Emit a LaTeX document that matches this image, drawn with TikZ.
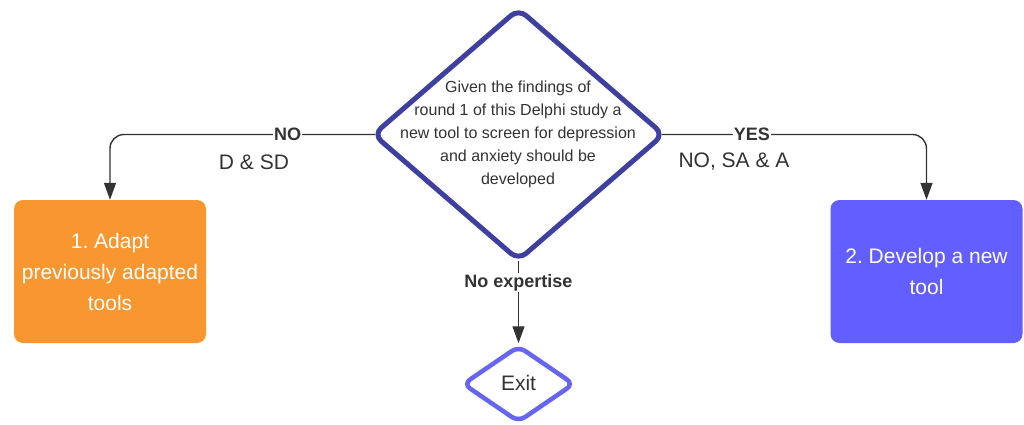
\documentclass[tikz,border=0pt]{standalone}
\usepackage{fontspec}
\setmainfont{Liberation Sans}
\usetikzlibrary{shapes.geometric,arrows.meta}
\definecolor{ink}{HTML}{333333}
\definecolor{decisionblue}{HTML}{3E3F9E}
\definecolor{exitblue}{HTML}{6565F2}
\definecolor{adaptorange}{HTML}{F8962F}
\definecolor{developblue}{HTML}{635EFF}
\frenchspacing
\tikzset{
  decision/.style={diamond, draw=decisionblue, line width=5pt, fill=white,
    rounded corners=10pt, inner sep=0pt},
  exitbox/.style={diamond, draw=exitblue, line width=4.5pt, fill=white,
    rounded corners=8pt, inner sep=0pt},
  choice/.style={rectangle, rounded corners=9pt, inner sep=0pt,
    minimum width=192pt, minimum height=143pt, text=white, align=center,
    font=\fontsize{21}{31}\selectfont},
  conn/.style={draw=ink, line width=1.4pt, -{Triangle[length=17pt,width=12pt]}},
  edgelabel/.style={fill=white, text=ink, inner sep=1pt,
    font=\fontsize{18}{20}\selectfont\bfseries},
  note/.style={text=ink, font=\fontsize{21}{24}\selectfont}
}
\begin{document}
\begin{tikzpicture}[x=1pt,y=-1pt]
\useasboundingbox (0,0) rectangle (1024,425);

% decision and its question
\node[decision, minimum width=292pt, minimum height=253pt] (q) at (518.5,134.5) {};
\node[text=ink, align=center, font=\fontsize{16}{23}\selectfont] (qtext) at (518,134.5)
  {Given the findings of\\round 1 of this Delphi study a\\new tool to screen for depression\\and anxiety should be\\developed};

% the two options
\node[choice, fill=adaptorange] (adapt) at (110,271.5) {1.\ Adapt\\previously adapted\\tools};
\node[choice, fill=developblue] (develop) at (926.5,271.5) {2.\ Develop a new\\tool};

% exit
\node[exitbox, minimum width=112pt, minimum height=77pt] (exit) at (518.5,384) {};
\node[text=ink, font=\fontsize{21}{24}\selectfont] (exittext) at (518.5,383) {Exit};

% connectors (start where the rounded tips of the decision actually lie)
\draw[conn, rounded corners=14pt] ([xshift=5pt]q.west) -| (adapt.north)
  node[edgelabel, pos=0.165] (nolabel) {NO};
\draw[conn, rounded corners=14pt] ([xshift=-5pt]q.east) -| (develop.north)
  node[edgelabel, pos=0.17] (yeslabel) {YES};
\draw[conn] ([yshift=3pt]q.south) -- (exit.north)
  node[edgelabel, pos=0.27] (nexlabel) {No expertise};

% response groups
\node[note] (dsd) at (254,162) {D \& SD};
\node[note] (nosaa) at (734,162) {NO, SA \& A};
\end{tikzpicture}
\end{document}
